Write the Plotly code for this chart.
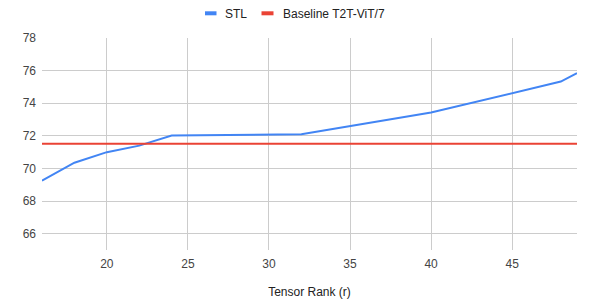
import plotly.graph_objects as go

rank = [16, 18, 20, 22, 24, 32, 40, 48, 49]
stl = [69.25, 70.35, 71.0, 71.4, 72.02, 72.1, 73.43, 75.33, 75.84]
baseline_x = [16, 49]
baseline_y = [71.52, 71.52]
series_names = ["STL", "Baseline T2T-ViT/7"]
series_colors = ["#4285F4", "#EA4335"]

fig = go.Figure()
fig.add_trace(go.Scatter(x=rank, y=stl, mode="lines", name=series_names[0], showlegend=False,
                         line=dict(color=series_colors[0], width=2)))
fig.add_trace(go.Scatter(x=baseline_x, y=baseline_y, mode="lines", name=series_names[1],
                         showlegend=False, line=dict(color=series_colors[1], width=2)))

# Custom legend (Google-style short swatch + label)
px_left, px_width = 42, 535      # plot area in page pixels
py_bottom, py_height = 250, 212


def xp(px):
    return (px - px_left) / px_width


def yp(py):
    return (py_bottom - py) / py_height


legend_items = [(205, 216.5, 223.5), (261.5, 273.5, 282)]
for (sx0, sx1, tx), name, color in zip(legend_items, series_names, series_colors):
    fig.add_shape(type="rect", xref="paper", yref="paper",
                  x0=xp(sx0), x1=xp(sx1), y0=yp(15.3), y1=yp(11.3),
                  fillcolor=color, line=dict(width=0))
    fig.add_annotation(xref="paper", yref="paper", x=xp(tx), y=yp(13.5),
                       xanchor="left", yanchor="middle", text=name, showarrow=False,
                       borderpad=0, font=dict(size=12, color="#222"))

# page body has an 8px margin, so the figure is sized/offset to compensate
fig.update_layout(
    width=588, height=297,
    margin=dict(l=34, r=19, t=30, b=55, autoexpand=False),
    paper_bgcolor="white", plot_bgcolor="white",
    font=dict(family="Arial, Liberation Sans, sans-serif", size=12, color="#444"),
    xaxis=dict(range=[16, 49], dtick=5, tick0=0, showgrid=True, gridcolor="#cccccc",
               zeroline=False, showline=False, ticks="", automargin=False,
               ticklabelstandoff=5,
               title=dict(text="Tensor Rank (r)", font=dict(size=12, color="#222"), standoff=17)),
    yaxis=dict(range=[65, 78], dtick=2, tick0=0, showgrid=True, gridcolor="#cccccc",
               zeroline=False, showline=False, ticks="", automargin=False,
               ticklabelstandoff=5),
)

fig.write_html("out.html")
